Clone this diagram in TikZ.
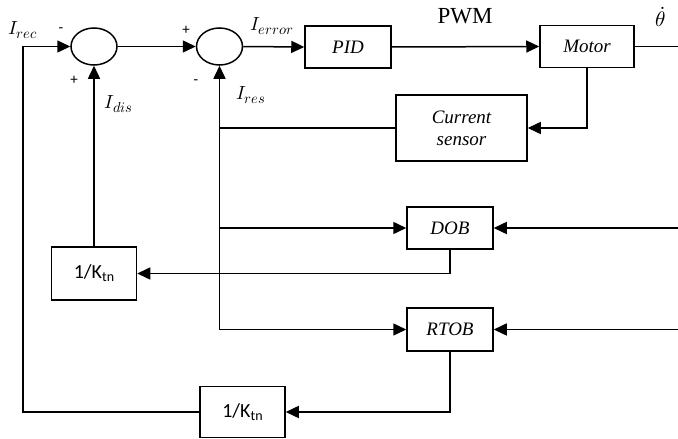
\documentclass[tikz,border=0pt]{standalone}
\usepackage{fontspec}
\usepackage{unicode-math}
\usetikzlibrary{arrows.meta,shapes.geometric}
\newfontfamily\timesf{Liberation Serif}
\newfontfamily\calib{Carlito}
\DeclareMathSizes{19}{19}{14.5}{11}
\tikzset{
  every path/.style={line width=1.5pt},
  arr/.style={-{Triangle[length=13pt,width=12pt]}},
  blk/.style={draw,line width=1.5pt,rectangle,inner sep=0pt,font=\timesf\itshape\fontsize{19}{22}\selectfont},
  sumc/.style={draw,line width=1.5pt,ellipse,minimum width=46pt,minimum height=37pt,inner sep=0pt},
  lbl/.style={font=\fontsize{19}{19}\selectfont,inner sep=0pt},
  sgn/.style={font=\calib\fontsize{15}{15}\selectfont,inner sep=0pt},
  kbox/.style={draw,line width=1.5pt,rectangle,inner sep=0pt,font=\calib\fontsize{20}{20}\selectfont}
}
\newcommand{\ktn}{1/K\raisebox{-0.3ex}{\fontsize{14}{14}\selectfont tn}}
\begin{document}
\begin{tikzpicture}[x=1pt,y=-1pt]
\useasboundingbox (0,0) rectangle (678,439);
% sums
\node[sumc] (s1) at (94,46.5) {};
\node[sumc] (s2) at (219.5,46.5) {};
% blocks
\node[blk,minimum width=86pt,minimum height=42pt] (pid) at (348,47) {PID};
\node[blk,minimum width=94pt,minimum height=42pt] (motor) at (587,46.5) {Motor};
\node[blk,minimum width=131pt,minimum height=66pt,align=center] (cs) at (461.5,128) {Current\\sensor};
\node[blk,minimum width=86pt,minimum height=42pt] (dob) at (450,228) {DOB};
\node[blk,minimum width=86pt,minimum height=43pt] (rtob) at (450,329.5) {RTOB};
\node[kbox,minimum width=85pt,minimum height=53pt] (k1) at (94,273.5) {\ktn};
\node[kbox,minimum width=85pt,minimum height=51pt] (k2) at (242.5,412) {\ktn};
% coordinates
\coordinate (out) at (678,46.5);
\coordinate (j1) at (219.5,128);
\coordinate (jd) at (219.5,228);
\coordinate (jr) at (219.5,329.5);
\coordinate (rd) at (678,228);
\coordinate (rr) at (678,329.5);
\coordinate (lt) at (23,46.5);
% connectors
\draw[arr] (s1.east) -- (s2.west);
\draw[arr] (s2.east) -- (pid.west);
\draw[arr] (pid.east) -- (motor.west);
\draw (motor.east) -- (out);
\draw[arr] (motor.south) |- (cs.east);
\draw (cs.west) -- (j1);
\draw[arr] (jr) -- (s2.south);
\draw[arr] (jd) -- (dob.west);
\draw[arr] (jr) -- (rtob.west);
\draw[arr] (rd) -- (dob.east);
\draw[arr] (rr) -- (rtob.east);
\draw[arr] (dob.south) |- (k1.east);
\draw[arr] (k1.north) -- (s1.south);
\draw[arr] (rtob.south) |- (k2.east);
\draw[arr] (k2.west) -| (lt) -- (s1.west);
% labels
\node[lbl] (lrec) at (23,30) {$I_{rec}$};
\node[lbl] (ldis) at (119,104) {$I_{dis}$};
\node[lbl] (lres) at (251,95) {$I_{res}$};
\node[lbl] (lerr) at (272,26) {$I_{error}$};
\node[sgn] (m1) at (61,30) {-};
\node[sgn] (p1) at (74,80) {+};
\node[sgn] (p2) at (186,30) {+};
\node[sgn] (m2) at (196,82) {-};
\node[font=\timesf\fontsize{23}{23}\selectfont,inner sep=0pt] (pwm) at (465,16) {PWM};
\node[font=\fontsize{21}{21}\selectfont,inner sep=0pt] (th) at (661,17) {$\dot{\theta}$};
\end{tikzpicture}
\end{document}
